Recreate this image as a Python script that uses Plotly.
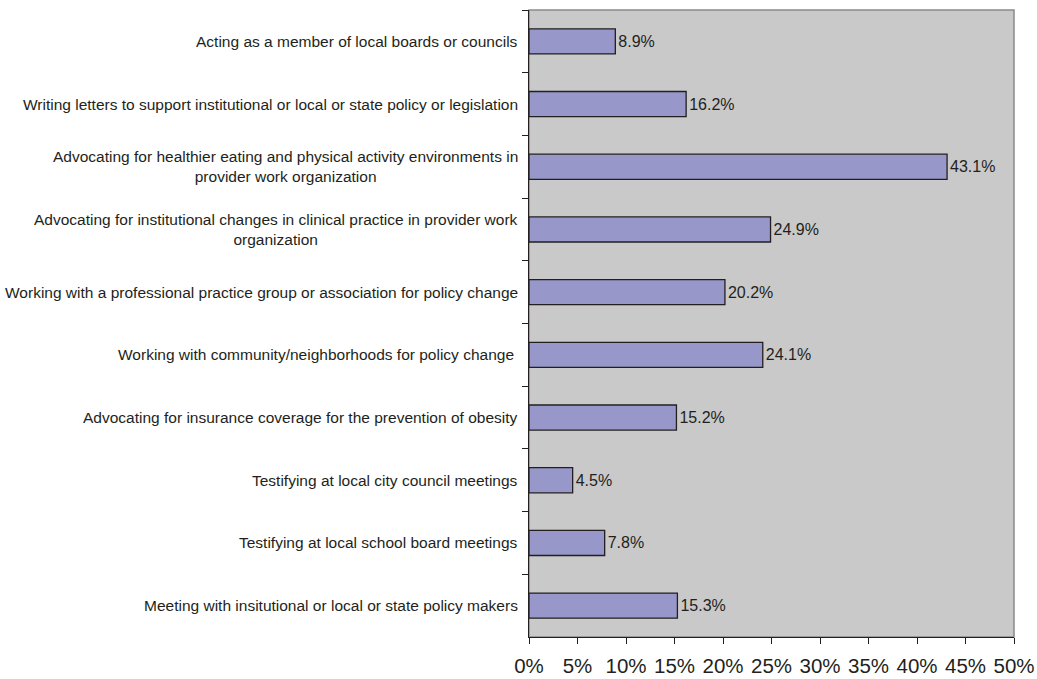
import plotly.graph_objects as go

categories = [
    "Acting as a member of local boards or councils",
    "Writing letters to support institutional or local or state policy or legislation",
    "Advocating for healthier eating and physical activity environments in<br>provider work organization",
    "Advocating for institutional changes in clinical practice in provider work<br>organization",
    "Working with a professional practice group or association for policy change",
    "Working with community/neighborhoods for policy change ",
    "Advocating for insurance coverage for the prevention of obesity",
    "Testifying at local city council meetings",
    "Testifying at local school board meetings",
    "Meeting with insitutional or local or state policy makers",
]
values = [8.9, 16.2, 43.1, 24.9, 20.2, 24.1, 15.2, 4.5, 7.8, 15.3]
x_ticks = [0, 5, 10, 15, 20, 25, 30, 35, 40, 45, 50]
x_tick_labels = [f"{t}%" for t in x_ticks]

FONT = "Liberation Sans, Arial, sans-serif"
TEXT = "#231f20"

fig = go.Figure(
    go.Bar(
        x=values,
        y=categories,
        orientation="h",
        marker=dict(color="#9797ca", line=dict(color="#231f20", width=1.3)),
        text=[f"{v:.1f}%" for v in values],
        textposition="outside",
        textfont=dict(family=FONT, size=16, color=TEXT),
        cliponaxis=False,
    )
)

# category labels as annotations so wrapped lines stay centred
for cat in categories:
    fig.add_annotation(
        x=0, xref="paper", y=cat, yref="y",
        text=cat, showarrow=False,
        xanchor="right", xshift=-9, align="center",
        font=dict(family=FONT, size=15.5, color=TEXT),
    )

# light frame around the plotting area
fig.add_shape(
    type="rect", xref="paper", yref="paper", x0=0, x1=1, y0=0, y1=1,
    line=dict(color="#8a8a8a", width=1.5), layer="below",
)

fig.update_layout(
    width=1037, height=679,
    margin=dict(l=529, r=23, t=10, b=42),
    paper_bgcolor="white",
    plot_bgcolor="#c9c9c9",
    bargap=0.6,
    showlegend=False,
    font=dict(family=FONT, color=TEXT),
)
fig.update_xaxes(
    range=[0, 50],
    automargin=False,
    tickvals=x_ticks, ticktext=x_tick_labels,
    tickfont=dict(family=FONT, size=20.5, color=TEXT),
    ticks="outside", ticklen=6, tickcolor="#231f20",
    showgrid=False, zeroline=False,
    showline=True, linecolor="#231f20", linewidth=1.3,
    ticklabelstandoff=4,
)
fig.update_yaxes(
    type="category", autorange="reversed",
    automargin=False,
    showticklabels=False,
    ticks="outside", ticklen=6, tickcolor="#231f20", tickson="boundaries",
    showgrid=False, zeroline=False,
    showline=True, linecolor="#231f20", linewidth=1.3,
)

fig.write_html("out.html")
